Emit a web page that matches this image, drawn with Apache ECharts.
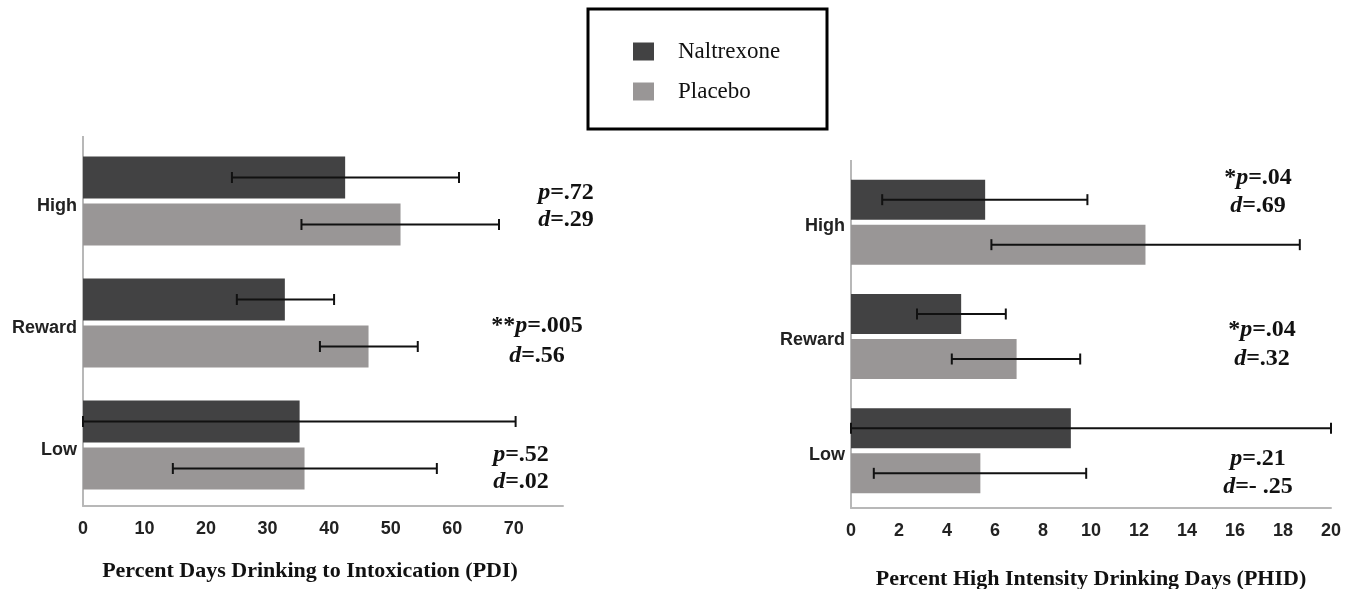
<!DOCTYPE html>
<html>
<head>
<meta charset="utf-8">
<script src="https://cdn.jsdelivr.net/npm/echarts@6/dist/echarts.min.js"></script>
<style>html,body{margin:0;padding:0;background:#fff;}#c{width:1361px;height:589px;}</style>
</head>
<body>
<div id="c"></div>
<script>
// ---- data ----
const categories = ['High', 'Reward', 'Low'];
const seriesNames = ['Naltrexone', 'Placebo'];
// PDI (left panel)
const pdiNaltrexone = [42.6, 32.8, 35.2];
const pdiPlacebo = [51.6, 46.4, 36.0];
const pdiNaltrexoneErrLow = [24.2, 25.0, 0];
const pdiNaltrexoneErrHigh = [61.1, 40.8, 70.3];
const pdiPlaceboErrLow = [35.5, 38.5, 14.6];
const pdiPlaceboErrHigh = [67.6, 54.4, 57.5];
const pdiTicks = [0, 10, 20, 30, 40, 50, 60, 70];
// PHID (right panel)
const phidNaltrexone = [5.59, 4.59, 9.16];
const phidPlacebo = [12.27, 6.9, 5.39];
const phidNaltrexoneErrLow = [1.3, 2.75, 0];
const phidNaltrexoneErrHigh = [9.85, 6.45, 20];
const phidPlaceboErrLow = [5.85, 4.2, 0.95];
const phidPlaceboErrHigh = [18.7, 9.55, 9.8];
const phidTicks = [0, 2, 4, 6, 8, 10, 12, 14, 16, 18, 20];
// annotations
const pdiStats = [['', 'p', '=.72', 'd', '=.29'], ['**', 'p', '=.005', 'd', '=.56'], ['', 'p', '=.52', 'd', '=.02']];
const phidStats = [['*', 'p', '=.04', 'd', '=.69'], ['*', 'p', '=.04', 'd', '=.32'], ['', 'p', '=.21', 'd', '=- .25']];
const axisTitles = ['Percent Days Drinking to Intoxication (PDI)', 'Percent High Intensity Drinking Days (PHID)'];

const DARK = '#424243';
const LIGHT = '#999696';
const SERIF = '"Liberation Serif", "Times New Roman", serif';
const SANS = '"Liberation Sans", Arial, sans-serif';

function errData(lo, hi) { return lo.map((v, i) => [i, v, hi[i]]); }
function errSeries(name, xi, lo, hi, offset) {
  return {
    type: 'custom', name: name + ' err', xAxisIndex: xi, yAxisIndex: xi, z: 10,
    encode: { x: [1, 2], y: 0 },
    data: errData(lo, hi),
    renderItem: function (params, api) {
      const c = api.value(0);
      const a = api.coord([api.value(1), c]);
      const b = api.coord([api.value(2), c]);
      const y = a[1] + offset, h = 5.5;
      const st = { stroke: '#111', lineWidth: 2 };
      return { type: 'group', children: [
        { type: 'line', shape: { x1: a[0], y1: y, x2: b[0], y2: y }, style: st },
        { type: 'line', shape: { x1: a[0], y1: y - h, x2: a[0], y2: y + h }, style: st },
        { type: 'line', shape: { x1: b[0], y1: y - h, x2: b[0], y2: y + h }, style: st }
      ]};
    }
  };
}

const FS = 24;
const rich = {
  i: { fontFamily: SERIF, fontSize: FS, fontWeight: 'bold', fontStyle: 'italic', fill: '#111' },
  b: { fontFamily: SERIF, fontSize: FS, fontWeight: 'bold', fill: '#111' }
};
function statText(x, y, star, letter, rest) {
  return { type: 'text', x: x, y: y, z: 20, style: {
    text: (star ? '{b|' + star + '}' : '') + '{i|' + letter + '}{b|' + rest + '}',
    rich: rich, align: 'center', verticalAlign: 'middle', font: 'bold ' + FS + 'px ' + SERIF
  }};
}
const pdiPos = [[566, 193, 220], [537, 326, 356], [521, 455, 482]];
const phidPos = [[1258, 178, 206], [1262, 330, 359], [1258, 459, 487]];
const graphics = [
  { type: 'rect', shape: { x: 588, y: 9, width: 239, height: 120 }, style: { fill: 'none', stroke: '#000', lineWidth: 3 } },
  { type: 'line', shape: { x1: 851, y1: 160, x2: 851, y2: 166 }, style: { stroke: '#b8b8b8', lineWidth: 2 } },
  { type: 'line', shape: { x1: 83, y1: 136, x2: 83, y2: 141 }, style: { stroke: '#b8b8b8', lineWidth: 2 } }
];
pdiStats.forEach((s, k) => {
  graphics.push(statText(pdiPos[k][0], pdiPos[k][1], s[0], s[1], s[2]));
  graphics.push(statText(pdiPos[k][0], pdiPos[k][2], '', s[3], s[4]));
});
phidStats.forEach((s, k) => {
  graphics.push(statText(phidPos[k][0], phidPos[k][1], s[0], s[1], s[2]));
  graphics.push(statText(phidPos[k][0], phidPos[k][2], '', s[3], s[4]));
});

function xAxisCfg(gi, max, interval, title, nameGap, namePad, margin) {
  return {
    type: 'value', gridIndex: gi, min: 0, max: max, interval: interval,
    splitLine: { show: false }, axisTick: { show: false },
    axisLine: { show: true, lineStyle: { color: '#b8b8b8', width: 2 } },
    axisLabel: { color: '#222', fontFamily: SANS, fontWeight: 'bold', fontSize: 18, margin: margin, showMaxLabel: max % interval === 0 },
    name: title, nameLocation: 'middle', nameGap: nameGap,
    nameTextStyle: { fontFamily: SERIF, fontWeight: 'bold', fontSize: 22, color: '#111', padding: namePad }
  };
}
function yAxisCfg(gi, lh) {
  return {
    type: 'category', gridIndex: gi, data: categories, inverse: true,
    axisTick: { show: false },
    axisLine: { show: true, lineStyle: { color: '#b8b8b8', width: 2 } },
    axisLabel: { color: '#222', fontFamily: SANS, fontWeight: 'bold', fontSize: 18, margin: 6, verticalAlign: 'top', lineHeight: lh }
  };
}

const option = {
  animation: false,
  backgroundColor: '#fff',
  legend: {
    data: seriesNames, orient: 'vertical', left: 633, top: 40, padding: 0,
    itemWidth: 21, itemHeight: 18, itemGap: 17, selectedMode: false, icon: 'rect',
    textStyle: { fontFamily: SERIF, fontSize: 23, color: '#111', padding: [0, 0, 0, 19] }
  },
  grid: [
    { left: 83, right: 1361 - 563, top: 140, bottom: 589 - 506, outerBoundsMode: 'none', containLabel: false },
    { left: 851, right: 1361 - 1331, top: 165, bottom: 589 - 508, outerBoundsMode: 'none', containLabel: false }
  ],
  xAxis: [
    xAxisCfg(0, 78, 10, axisTitles[0], 54, [0, 26, 0, 0], 14),
    xAxisCfg(1, 20, 2, axisTitles[1], 60, [0, 0, 0, 0], 14)
  ],
  yAxis: [yAxisCfg(0, 10), yAxisCfg(1, 8)],
  series: [
    { type: 'bar', name: seriesNames[0], xAxisIndex: 0, yAxisIndex: 0, data: pdiNaltrexone, barWidth: 42, barGap: '12%', itemStyle: { color: DARK } },
    { type: 'bar', name: seriesNames[1], xAxisIndex: 0, yAxisIndex: 0, data: pdiPlacebo, barWidth: 42, barGap: '12%', itemStyle: { color: LIGHT } },
    { type: 'bar', name: seriesNames[0], xAxisIndex: 1, yAxisIndex: 1, data: phidNaltrexone, barWidth: 40, barGap: '12.5%', itemStyle: { color: DARK } },
    { type: 'bar', name: seriesNames[1], xAxisIndex: 1, yAxisIndex: 1, data: phidPlacebo, barWidth: 40, barGap: '12.5%', itemStyle: { color: LIGHT } },
    errSeries('pdiN', 0, pdiNaltrexoneErrLow, pdiNaltrexoneErrHigh, -23.5),
    errSeries('pdiP', 0, pdiPlaceboErrLow, pdiPlaceboErrHigh, 23.5),
    errSeries('phidN', 1, phidNaltrexoneErrLow, phidNaltrexoneErrHigh, -22.5),
    errSeries('phidP', 1, phidPlaceboErrLow, phidPlaceboErrHigh, 22.5)
  ],
  graphic: graphics
};
const chart = echarts.init(document.getElementById('c'), null, { renderer: 'canvas' });
chart.setOption(option);
</script>
</body>
</html>
